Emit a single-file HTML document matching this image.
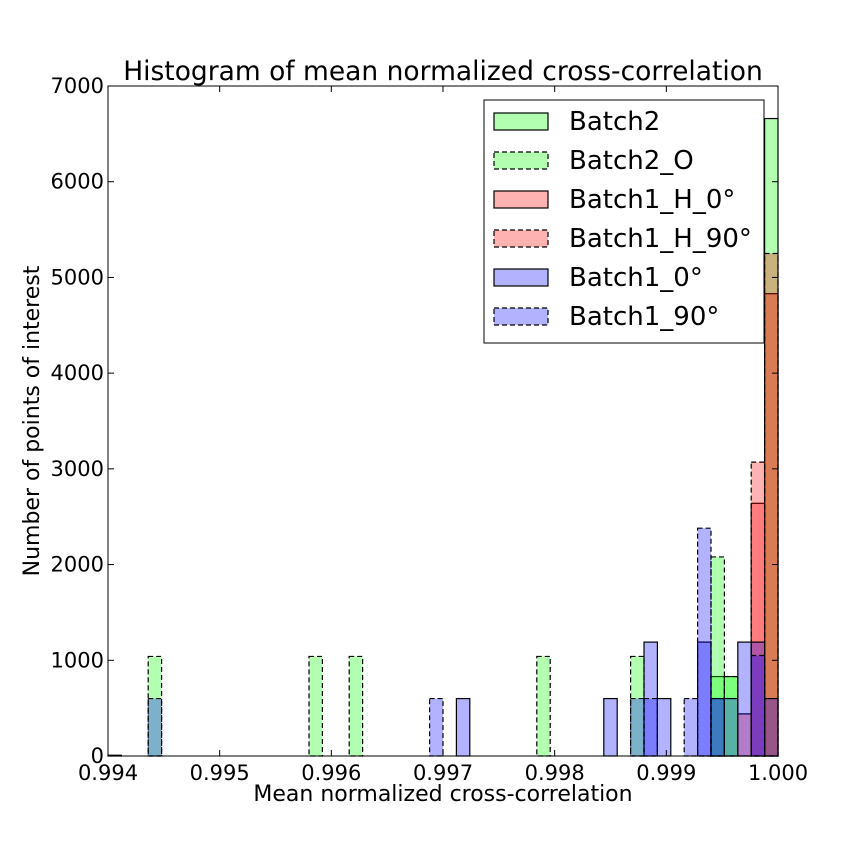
<!DOCTYPE html>
<html><head><meta charset="utf-8"><style>body{margin:0;background:#fff}svg{display:block;font-family:"DejaVu Sans","Liberation Sans",sans-serif}</style></head>
<body>
<svg id="c" width="864" height="864">
<rect width="864" height="864" fill="#fff"/>
</svg>
<script>
const binStart = 0.994, binWidth = 0.00012;
const xTicks = [0.994,0.995,0.996,0.997,0.998,0.999,1.000];
const xTickLabels = ["0.994","0.995","0.996","0.997","0.998","0.999","1.000"];
const yTicks = [0,1000,2000,3000,4000,5000,6000,7000];
const seriesNames = ["Batch2","Batch2_O","Batch1_H_0°","Batch1_H_90°","Batch1_0°","Batch1_90°"];
const seriesColors = ["#00ff00","#00ff00","#ff0000","#ff0000","#0000ff","#0000ff"];
const seriesDashed = [false,true,false,true,false,true];
// [bin index, count]
const batch2 = [[0,8],[45,830],[46,830],[49,6660]];
const batch2O = [[3,1040],[15,1040],[18,1040],[32,1040],[39,1040],[45,2080],[46,830]];
const batch1H0 = [[47,440],[48,2640],[49,4830]];
const batch1H90 = [[48,3070],[49,5250]];
const batch1_0 = [[26,600],[37,600],[40,1190],[41,600],[44,1190],[45,600],[46,600],[47,1190],[48,1190],[49,600]];
const batch1_90 = [[3,600],[24,600],[39,600],[40,600],[43,600],[44,2380],[45,600],[48,1050]];
const allSeries = [batch2,batch2O,batch1H0,batch1H90,batch1_0,batch1_90];

const svg = document.getElementById('c');
const NS = 'http://www.w3.org/2000/svg';
const L=108,R=778,T=86,B=756;
const xs = v => L + (v-0.994)/0.006*(R-L);
const ys = v => B - v/7000*(B-T);
function mk(tag, attrs, parent){const e=document.createElementNS(NS,tag);for(const k in attrs)e.setAttribute(k,attrs[k]);(parent||svg).appendChild(e);return e;}

allSeries.forEach((s,si)=>{
  const g = mk('g',{});
  
  
  s.forEach(([bin,cnt])=>{
    const x0 = xs(binStart+bin*binWidth), x1 = xs(binStart+(bin+1)*binWidth);
    const r = mk('rect',{x:x0,y:ys(cnt),width:x1-x0,height:ys(0)-ys(cnt),fill:seriesColors[si],'fill-opacity':0.3,stroke:'#000','stroke-width':1.2});
    if(seriesDashed[si]) r.setAttribute('stroke-dasharray','5,3');
    
    
    g.appendChild(r);
  });
});

const frame = mk('rect',{x:L,y:T,width:R-L,height:B-T,fill:'none',stroke:'#000','stroke-width':1});



xTicks.forEach((v,i)=>{
  const x=xs(v);
  mk('line',{x1:x,x2:x,y1:B,y2:B-6,stroke:'#000'});
  mk('line',{x1:x,x2:x,y1:T,y2:T+6,stroke:'#000'});
  const t=mk('text',{x:x,y:B+24,'text-anchor':'middle','font-size':21});
  t.textContent=xTickLabels[i];
  
  
});
yTicks.forEach(v=>{
  const y=ys(v);
  mk('line',{x1:L,x2:L+6,y1:y,y2:y,stroke:'#000'});
  mk('line',{x1:R,x2:R-6,y1:y,y2:y,stroke:'#000'});
  const t=mk('text',{x:L-4,y:y+7,'text-anchor':'end','font-size':21});
  t.textContent=String(v);
  
  
});

const title=mk('text',{x:443,y:80,'text-anchor':'middle','font-size':26.5});
title.textContent='Histogram of mean normalized cross-correlation';


const xl=mk('text',{x:443,y:801,'text-anchor':'middle','font-size':22});
xl.textContent='Mean normalized cross-correlation';


const yl=mk('text',{x:0,y:0,'text-anchor':'middle','font-size':22,transform:'translate(39,421) rotate(-90)'});
yl.textContent='Number of points of interest';



const lg=mk('g',{});


mk('rect',{x:484,y:100,width:280,height:243,fill:'#fff',stroke:'#000'},lg);
seriesNames.forEach((n,i)=>{
  const y=121+i*39;
  const p=mk('rect',{x:494,y:y-8,width:54,height:17,fill:seriesColors[i],'fill-opacity':0.3,stroke:'#000','stroke-width':1.2},lg);
  if(seriesDashed[i]) p.setAttribute('stroke-dasharray','5,3');
  
  
  const t=mk('text',{x:569,y:y+9,'font-size':26},lg);
  t.textContent=n;
  
  
});
</script>
</body></html>
